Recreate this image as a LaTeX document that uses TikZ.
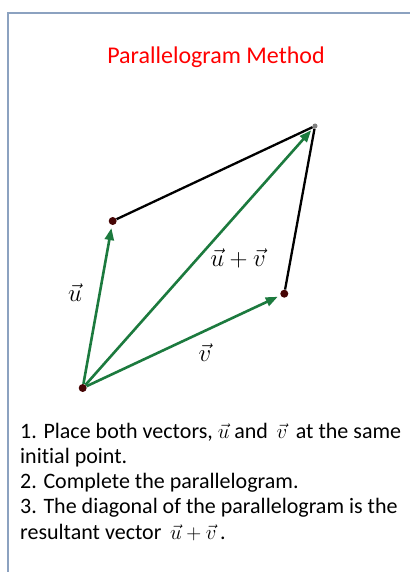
\documentclass[tikz,border=0pt]{standalone}
\usepackage{amsmath}
\usepackage{fontspec}
\setmainfont{Carlito}[Ligatures=NoCommon]
\usepackage{tikz}
\usetikzlibrary{positioning, arrows.meta}
\definecolor{vgreen}{RGB}{28,122,62}
\definecolor{dotred}{RGB}{70,5,5}
\definecolor{framegray}{RGB}{140,162,192}

\begin{document}
\begin{tikzpicture}[
    x=1pt, y=-1pt,
    every node/.style={align=left},
    dot/.style={circle, fill=dotred, inner sep=0pt, minimum size=8pt},
    vecarrow/.style={-{Triangle[length=12pt,width=9pt]}, line width=2.6pt, draw=vgreen, shorten >=3pt},
    side/.style={line width=2.3pt, draw=black},
    lbl/.style={font=\fontsize{34}{34}\selectfont},
]
\useasboundingbox (0,0) rectangle (410,572);
% Frame
\draw[framegray, line width=1.5pt] (8,572) -- (8,13) -- (410,13);
% Title
\node[text=red, font=\fontsize{24}{28}\selectfont, anchor=base] (title) at (216,64) {Parallelogram Method};
% Corners of the parallelogram
\node[dot] (origin) at (82.7,388) {};
\node[dot] (utip) at (112.7,221) {};
\node[dot] (vtip) at (284.3,293.7) {};
\node[circle, fill=gray, inner sep=0pt, minimum size=5pt] (sum) at (315,126) {};
% Sides
\draw[side] (utip) -- (sum);
\draw[side] (vtip) -- (sum);
% Vectors
\draw[vecarrow] (origin) -- (utip);
\draw[vecarrow] (origin) -- (vtip);
\draw[vecarrow] (origin) -- (sum);
% Labels
\node[lbl] (ulabel) at (75,293) {$\vec{u}$};
\node[lbl] (sumlabel) at (238,258) {$\vec{u}+\vec{v}$};
\node[lbl] (vlabel) at (205,353) {$\vec{v}$};
% Steps
\node[anchor=base west, inner sep=0pt, font=\fontsize{22}{25.25}\selectfont] (steps) at (20,539)
  {1. Place both vectors, $\vec{u}$ and\, $\vec{v}$\, at the same\\
   initial point.\\
   2. Complete the parallelogram.\\
   3. The diagonal of the parallelogram is the\\
   resultant vector\, $\vec{u}+\vec{v}$\,.};
\end{tikzpicture}
\end{document}
